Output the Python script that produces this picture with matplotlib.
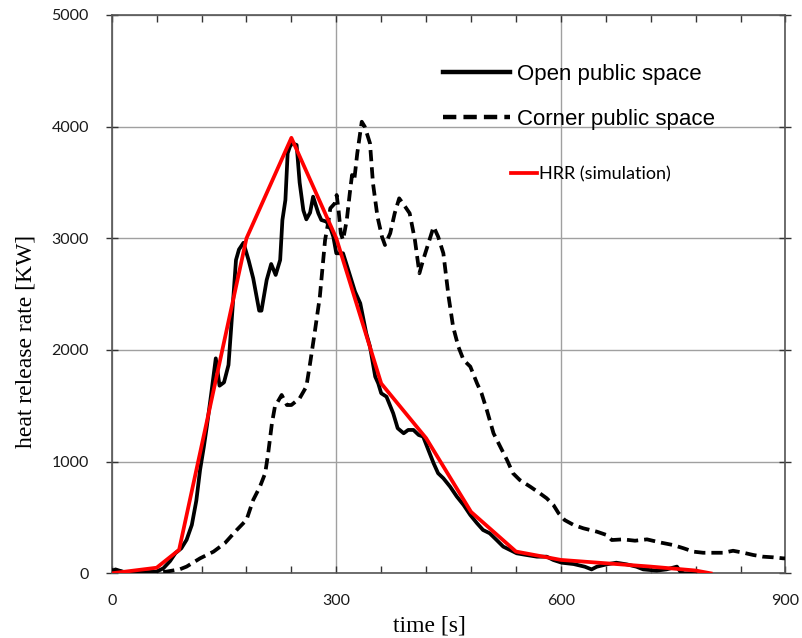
import matplotlib
matplotlib.use("Agg")
import matplotlib.pyplot as plt
from matplotlib.lines import Line2D
from matplotlib.ticker import MultipleLocator

# Open public space (solid black)
open_t = [0, 5, 12, 20, 30, 45, 60, 69, 78, 85,
          93, 100, 107, 113, 118, 123, 127, 133, 139, 144,
          150, 156, 160, 166, 170, 176, 183, 189, 197, 200,
          207, 213, 219, 225, 228, 232, 235, 238, 241, 247,
          251, 256, 260, 265, 269, 276, 280, 287, 293, 296,
          300, 309, 316, 325, 332, 340, 345, 352, 356, 360,
          367, 376, 382, 390, 396, 403, 410, 416, 423, 430,
          436, 443, 452, 461, 470, 479, 488, 496, 505, 514,
          523, 532, 541, 554, 568, 581, 590, 601, 617, 632,
          641, 648, 661, 674, 688, 701, 710, 728, 741, 755,
          760, 765, 780]
open_v = [10, 35, 20, 5, 10, 10, 15, 45, 110, 180,
          224, 300, 433, 650, 925, 1130, 1313, 1612, 1925, 1680,
          1710, 1866, 2240, 2806, 2900, 2960, 2800, 2642, 2352, 2352,
          2627, 2770, 2672, 2806, 3164, 3343, 3761, 3821, 3851, 3836,
          3500, 3250, 3170, 3230, 3373, 3224, 3164, 3149, 3075, 3015,
          2866, 2866, 2716, 2522, 2418, 2149, 2030, 1761, 1701, 1612,
          1582, 1433, 1299, 1254, 1284, 1284, 1239, 1224, 1104, 985,
          896, 851, 776, 687, 612, 522, 448, 388, 358, 299,
          239, 209, 179, 164, 149, 149, 119, 95, 83, 59,
          35, 59, 80, 95, 80, 59, 35, 24, 35, 60,
          10, 0, 0]

# Corner public space (dashed black)
corner_t = [0, 10, 20, 35, 50, 65, 73, 91, 100, 118,
            136, 151, 167, 180, 189, 198, 205, 209, 214, 218,
            227, 234, 240, 251, 260, 265, 271, 278, 285, 289,
            292, 298, 300.5, 303, 306, 309, 314, 318, 321, 324,
            328, 334, 338, 345, 349, 355, 361, 365, 372, 378,
            384, 392, 398, 405, 411, 416, 423, 430, 436, 443,
            450, 456, 463, 470, 479, 488, 494, 501, 510, 519,
            528, 536, 545, 559, 572, 581, 590, 597, 605, 617,
            630, 648, 661, 668, 683, 699, 715, 732, 750, 764,
            777, 790, 804, 817, 830, 844, 857, 870, 884, 897,
            900]
corner_v = [30, 20, 5, 5, 5, 10, 15, 36, 60, 134,
            194, 269, 388, 478, 657, 776, 896, 1075, 1343, 1493,
            1597, 1507, 1507, 1567, 1672, 1881, 2149, 2477, 2985, 3134,
            3269, 3313, 3388, 3253, 3045, 2985, 3164, 3403, 3567, 3522,
            3761, 4044, 4000, 3851, 3492, 3194, 3014, 2940, 3045, 3224,
            3358, 3283, 3224, 2985, 2687, 2806, 2955, 3104, 3015, 2866,
            2477, 2209, 2030, 1910, 1851, 1701, 1612, 1463, 1254, 1134,
            1015, 896, 836, 776, 716, 672, 612, 537, 477, 433,
            403, 373, 343, 298, 304, 292, 304, 277, 253, 224,
            194, 184, 184, 184, 202, 184, 164, 149, 143, 134,
            134]

# HRR (simulation), red
hrr_t = [0, 60, 90, 180, 240, 300, 360, 420, 480, 540, 600, 660, 720, 780, 800]
hrr_v = [0, 50, 210, 3000, 3900, 3000, 1700, 1210, 550, 195, 120, 90, 60, 25, 0]

x_ticks = [0, 300, 600, 900]
y_ticks = [0, 1000, 2000, 3000, 4000, 5000]

DASH = (0, (3.0, 1.6))
LW = 2.7

fig = plt.figure(figsize=(8.02, 6.38), dpi=100)
ax = fig.add_axes([0.1393, 0.1014, 0.8401, 0.8751])

ax.plot(open_t, open_v, color="black", lw=LW, zorder=3)
ax.plot(corner_t, corner_v, color="black", lw=LW, linestyle=DASH,
        dash_capstyle="butt", zorder=3)
ax.plot(hrr_t, hrr_v, color="#ff0000", lw=LW, zorder=4)

ax.set_xlim(0, 900)
ax.set_ylim(0, 5000)
ax.set_xticks(x_ticks)
ax.set_yticks(y_ticks)
ax.xaxis.set_minor_locator(MultipleLocator(60))
ax.grid(True, which="major", color="#a0a0a0", lw=1.0, zorder=1)

tick_font = {"family": "Lato", "size": 11.5, "color": "#1a1a1a"}
ax.set_xticklabels([str(v) for v in x_ticks], **tick_font)
ax.set_yticklabels([str(v) for v in y_ticks], **tick_font)
ax.tick_params(axis="x", which="both", direction="in", top=True, length=5,
               width=1, pad=15, color="#333333")
ax.tick_params(axis="y", which="major", direction="inout", right=True,
               length=9, width=1, pad=12, color="#333333")

for s in ax.spines.values():
    s.set_color("#555555")
    s.set_linewidth(1.2)

ax.set_xlabel("time [s]", family="Liberation Serif", fontsize=17)
ax.set_ylabel("heat release rate [KW]", family="Liberation Serif", fontsize=17)
ax.xaxis.set_label_coords(0.471, -0.075)
ax.yaxis.set_label_coords(-0.112, 0.415)

# legend: two blocks as in the original
h_open = Line2D([], [], color="black", lw=3.2)
h_corner = Line2D([], [], color="black", lw=3.2, linestyle=DASH, dash_capstyle="butt")
leg1 = ax.legend([h_open, h_corner], ["Open public space", "Corner public space"],
                 loc="upper left", bbox_to_anchor=(0.492, 0.913), frameon=False,
                 prop={"family": "Liberation Sans", "size": 16},
                 handlelength=3.0, handletextpad=0.3, labelspacing=1.1,
                 borderpad=0, borderaxespad=0)
ax.add_artist(leg1)
h_hrr = Line2D([], [], color="#ff0000", lw=2.7)
ax.legend([h_hrr], ["HRR (simulation)"], loc="upper left",
          bbox_to_anchor=(0.592, 0.729), frameon=False,
          prop={"family": "Lato", "size": 13},
          handlelength=1.45, handletextpad=0.15, borderpad=0, borderaxespad=0)

fig.savefig("out.png", dpi=100)
